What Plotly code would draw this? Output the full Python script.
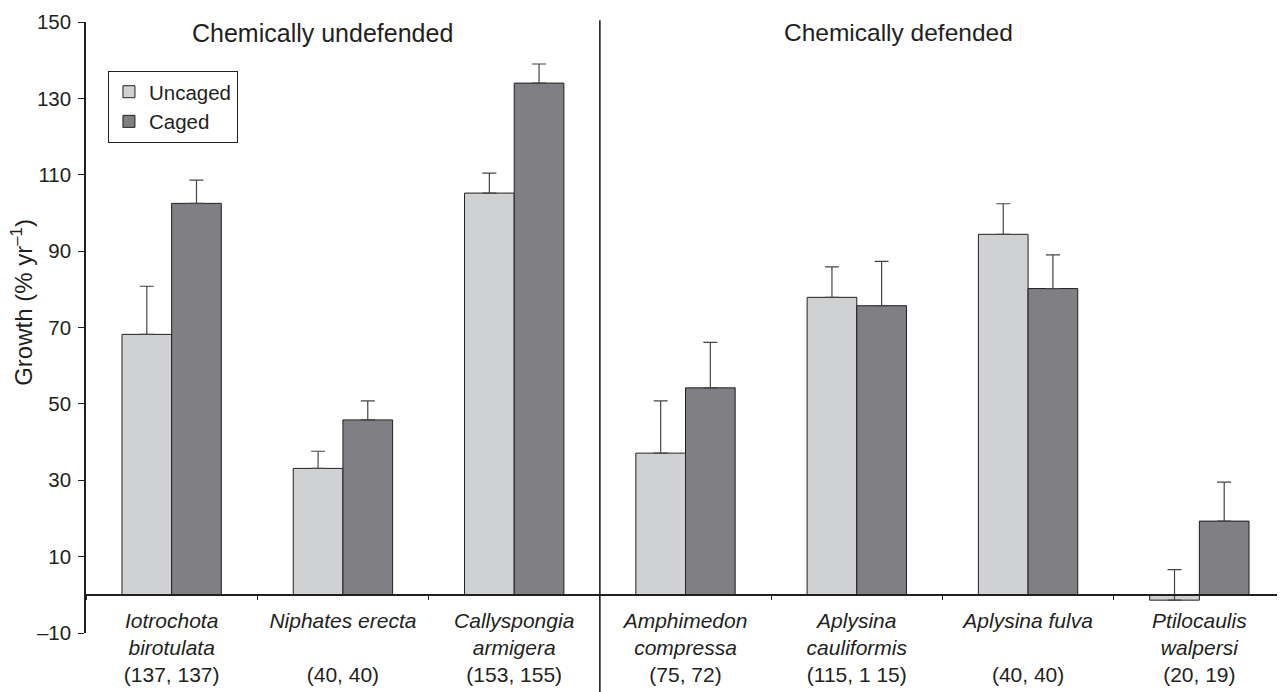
import plotly.graph_objects as go

species = [
    "<i>Iotrochota<br>birotulata</i><br>(137, 137)",
    "<i>Niphates erecta</i><br>\u00a0<br>(40, 40)",
    "<i>Callyspongia<br>armigera</i><br>(153, 155)",
    "<i>Amphimedon<br>compressa</i><br>(75, 72)",
    "<i>Aplysina<br>cauliformis</i><br>(115, 1 15)",
    "<i>Aplysina fulva</i><br>\u00a0<br>(40, 40)",
    "<i>Ptilocaulis<br>walpersi</i><br>(20, 19)",
]
cat_ids = ["Iotrochota", "Niphates", "Callyspongia", "Amphimedon",
           "Aplysina c", "Aplysina f", "Ptilocaulis"]

uncaged = [68.2, 33.1, 105.2, 37.1, 77.9, 94.4, -1.4]
uncaged_err = [12.6, 4.5, 5.2, 13.7, 8.0, 8.0, 8.0]
caged = [102.5, 45.8, 134.0, 54.2, 75.7, 80.2, 19.3]
caged_err = [6.1, 5.0, 5.0, 11.9, 11.6, 8.8, 10.2]

ytick_vals = [-10, 10, 30, 50, 70, 90, 110, 130, 150]
ytick_text = ["\u201310", "10", "30", "50", "70", "90", "110", "130", "150"]

INK = "#231f20"
FONT = "Liberation Sans, Arial, sans-serif"

fig = go.Figure()
fig.add_trace(go.Bar(
    name="Uncaged", x=cat_ids, y=uncaged,
    marker=dict(color="#d0d1d3", line=dict(color=INK, width=1)),
    error_y=dict(type="data", array=uncaged_err, arrayminus=[0] * len(uncaged),
                 symmetric=False, color="#444", thickness=1.2, width=7),
))
fig.add_trace(go.Bar(
    name="Caged", x=cat_ids, y=caged,
    marker=dict(color="#807f84", line=dict(color=INK, width=1)),
    error_y=dict(type="data", array=caged_err, arrayminus=[0] * len(caged),
                 symmetric=False, color="#444", thickness=1.2, width=7),
))

fig.update_layout(
    width=1277, height=684,
    margin=dict(l=78, r=0, t=14, b=59),
    paper_bgcolor="white", plot_bgcolor="white",
    barmode="group", bargap=0.42, bargroupgap=0,
    font=dict(family=FONT, color=INK, size=21),
    showlegend=True,
    legend=dict(
        x=0.0183, y=0.92, xanchor="left", yanchor="top",
        bordercolor=INK, borderwidth=1, bgcolor="white",
        font=dict(size=20.5, color=INK), tracegroupgap=0,
        itemwidth=30,
    ),
    xaxis=dict(
        type="category", categoryorder="array", categoryarray=cat_ids,
        tickmode="array", tickvals=cat_ids, ticktext=species,
        range=[-0.5, 6.5], anchor="free", position=0.0625,
        showline=True, linecolor=INK, linewidth=1.6,
        ticks="outside", tickson="boundaries", ticklen=4, tickcolor=INK, tickwidth=1,
        tickfont=dict(size=21, color=INK), showgrid=False, zeroline=False,
        ticklabelstandoff=7,
    ),
    yaxis=dict(
        range=[-10, 150], tickmode="array", tickvals=ytick_vals, ticktext=ytick_text,
        showline=True, linecolor=INK, linewidth=1.6,
        ticks="outside", ticklen=6, tickcolor=INK, tickwidth=1,
        tickfont=dict(size=20.5, color=INK), showgrid=False, zeroline=False,
        ticklabelstandoff=3,
    ),
    shapes=[dict(type="line", xref="x", yref="paper", x0=2.5, x1=2.5, y0=-0.11, y1=1.003,
                 line=dict(color=INK, width=1.6))],
    annotations=[
        dict(text="Chemically undefended", xref="paper", yref="paper", x=0.197, y=0.982,
             showarrow=False, font=dict(size=25, color=INK), xanchor="center", yanchor="middle"),
        dict(text="Chemically defended", xref="paper", yref="paper", x=0.678, y=0.982,
             showarrow=False, font=dict(size=24.5, color=INK), xanchor="center", yanchor="middle"),
        dict(text="Growth (% yr<sup>\u20131</sup>)", xref="paper", yref="paper",
             x=-0.0534, y=0.542, textangle=-90, showarrow=False,
             font=dict(size=24, color=INK), xanchor="center", yanchor="middle"),
    ],
)

fig.write_html("out.html")
